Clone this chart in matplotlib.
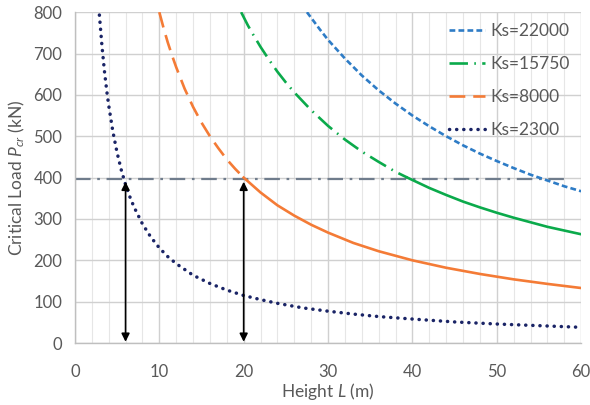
import matplotlib
matplotlib.use("Agg")
import matplotlib.pyplot as plt
from matplotlib.lines import Line2D
import numpy as np

plt.rcParams['font.family'] = ['Lato', 'DejaVu Sans']
plt.rcParams['mathtext.fontset'] = 'custom'
plt.rcParams['mathtext.it'] = 'Lato:italic'
plt.rcParams['mathtext.rm'] = 'Lato'

# ---- data ----
labels = ["Ks=22000", "Ks=15750", "Ks=8000", "Ks=2300"]

L_22000 = [27.5, 29, 30, 32, 34, 36, 38, 40, 42, 44, 46, 48, 50, 52, 54, 56, 58, 60]
P_22000 = [800, 759, 733, 688, 647, 611, 579, 550, 524, 500, 478, 458, 440, 423, 407, 393, 379, 367]

L_15750 = [19.7, 20.5, 21, 22, 23, 24, 25, 26, 28, 30, 32, 34, 36, 38, 39.4,
           42, 44, 46, 48, 50, 52, 54, 56, 58, 60]
P_15750 = [800, 768, 750, 716, 685, 656, 630, 606, 563, 525, 492, 463, 438, 414, 400,
           375, 358, 342, 328, 315, 303, 292, 281, 272, 263]

L_8000 = [10, 10.5, 11, 11.5, 12, 13, 14, 15, 16, 17, 18, 19, 20,
          22, 24, 26, 28, 30, 33, 36, 40, 44, 48, 52, 56, 60]
P_8000 = [800, 762, 727, 696, 667, 615, 571, 533, 500, 471, 444, 421, 400,
          364, 333, 308, 286, 267, 242, 222, 200, 182, 167, 154, 143, 133]

L_2300 = [2.9, 3.2, 3.5, 3.8, 4, 4.5, 5, 5.5, 6, 6.5, 7, 8, 9, 10, 11, 12, 14, 16, 18, 20,
          22, 24, 27, 30, 33, 36, 40, 45, 50, 55, 60]
P_2300 = [793, 719, 657, 605, 575, 511, 460, 418, 383, 354, 329, 288, 256, 230, 209, 192,
          164, 144, 128, 115, 105, 96, 85, 77, 70, 64, 58, 51, 46, 42, 38]

limit_load = 397          # horizontal reference line (kN)
limit_L_end = 58          # where reference line stops
arrow_L = [6, 20]         # vertical arrows positions
arrow_top = 390
arrow_bottom = 3

# ---- styles ----
c_22000 = '#2E7CC6'
c_15750 = '#0BAA4B'
c_8000 = '#F47B36'
c_2300 = '#1A2466'
lw = 1.9

ls_short = (0, (2.2, 1.2))
ls_dashdot = (0, (7, 2.4, 0.6, 2.4))
ls_long = (0, (6, 3))
ls_dot = (0, (0.05, 2.0))

fig = plt.figure(figsize=(5.9, 4.05), dpi=100)
ax = fig.add_axes([0.127, 0.153, 0.858, 0.817])

ax.set_xlim(0, 60)
ax.set_ylim(0, 800)
ax.set_xticks(np.arange(0, 61, 10))
ax.set_xticks(np.arange(0, 61, 2), minor=True)
ax.set_yticks(np.arange(0, 801, 100))
ax.grid(True, which='major', color='#D0D0D0', lw=1.0, zorder=0)
ax.grid(True, which='minor', axis='x', color='#E6E6E6', lw=0.8, zorder=0)
for s in ['top', 'right']:
    ax.spines[s].set_visible(False)
for s in ['left', 'bottom']:
    ax.spines[s].set_color('#BFBFBF')
    ax.spines[s].set_linewidth(1.0)
ax.tick_params(which='both', length=0, labelsize=12, labelcolor='#595959')
ax.tick_params(axis='x', pad=15)
ax.tick_params(axis='y', pad=9)

# reference line
ax.plot([0, limit_L_end], [limit_load, limit_load], color='#6F7C8C', lw=1.6,
        linestyle=(0, (7, 3, 1.2, 3)), zorder=2)

def split_plot(L, P, color, ls_above):
    L = np.array(L); P = np.array(P)
    i = int(np.argmin(np.abs(P - 400)))
    ax.plot(L[:i + 1], P[:i + 1], color=color, lw=lw, linestyle=ls_above, zorder=3)
    ax.plot(L[i:], P[i:], color=color, lw=lw, linestyle='-', zorder=3)

ax.plot(L_22000, P_22000, color=c_22000, lw=lw, linestyle=ls_short, zorder=3)
split_plot(L_15750, P_15750, c_15750, ls_dashdot)
split_plot(L_8000, P_8000, c_8000, ls_long)
ax.plot(L_2300, P_2300, color=c_2300, lw=2.5, linestyle=ls_dot,
        dash_capstyle='round', zorder=3)

for xa in arrow_L:
    ax.annotate('', xy=(xa, arrow_bottom), xytext=(xa, arrow_top),
                arrowprops=dict(arrowstyle='<|-|>', color='black', lw=1.2,
                                mutation_scale=12, shrinkA=0, shrinkB=0), zorder=4)

handles = [
    Line2D([], [], color=c_22000, lw=lw, linestyle=ls_short),
    Line2D([], [], color=c_15750, lw=lw, linestyle=ls_dashdot),
    Line2D([], [], color=c_8000, lw=lw, linestyle=ls_long),
    Line2D([], [], color=c_2300, lw=2.5, linestyle=ls_dot, dash_capstyle='round'),
]
leg = ax.legend(handles, labels, loc='upper right', bbox_to_anchor=(1.0, 1.0),
                frameon=False, fontsize=12.5, labelspacing=0.98, handlelength=2.1,
                handletextpad=0.3, borderaxespad=0.25)
for t in leg.get_texts():
    t.set_color('#595959')

ax.set_xlabel('Height $\\mathit{L}$ (m)', fontsize=12.5, color='#595959', labelpad=1)
ax.set_ylabel('Critical Load $\\mathit{P}_{\\mathit{cr}}$ (kN)', fontsize=12.5,
              color='#595959', labelpad=5)

fig.savefig('out.png', dpi=100)
